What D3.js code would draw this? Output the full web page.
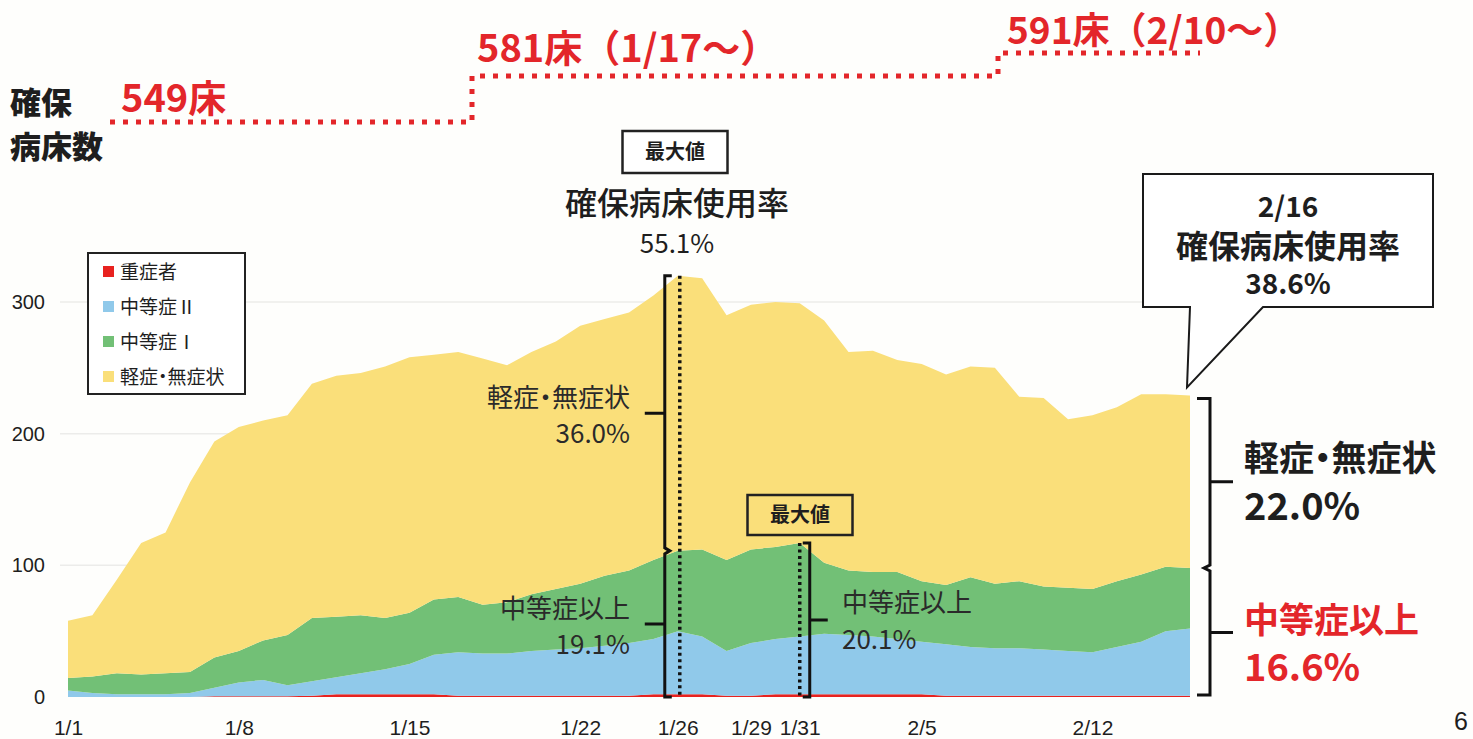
<!DOCTYPE html>
<html>
<head>
<meta charset="utf-8">
<script src="https://cdn.jsdelivr.net/npm/d3@7"></script>
<style>
  body { margin: 0; background: #fefefc; }
  svg { display: block; font-family: "Noto Sans CJK JP", "Noto Sans", sans-serif; }
  .tight { font-feature-settings: "palt" 1; }
</style>
</head>
<body>
<script>
// dates on the x axis
var days = ["1/1","1/2","1/3","1/4","1/5","1/6","1/7","1/8","1/9","1/10",
  "1/11","1/12","1/13","1/14","1/15","1/16","1/17","1/18","1/19","1/20",
  "1/21","1/22","1/23","1/24","1/25","1/26","1/27","1/28","1/29","1/30",
  "1/31","2/1","2/2","2/3","2/4","2/5","2/6","2/7","2/8","2/9",
  "2/10","2/11","2/12","2/13","2/14","2/15","2/16"];

// patients per category
var severe = [0,0,0,0,0,0,0.5,0.5,0.5,0.5,
  1,2,2,2,2,2,1,1,1,1,
  1,1,1,1,2,2,2,1,1,2,
  2,2,2,2,2,2,1,1,1,1,
  1,1,1,1,1,1,1];
var moderate2 = [5,3,2,2,2,3,6.5,10.5,12.5,8.5,
  11,13,16,19,23,30,33,32,32,34,
  35,36,38,40,42,48,44,34,40,42,
  44,46,45,44,42,40,39,37,36,36,
  35,34,33,37,41,49,51];
var moderate1 = [9.5,12.5,16,15,16,16,23,24,30,38,
  48,46,44,39,39,42,42,37,39,43,
  46,49,53,55,60,61,66,69,71,70,
  71,54,49,49,51,46,45,53,49,51,
  48,48,48,50,51,49,46];
var mild = [43.5,46.5,71,100,107,144,164,170,167,167,
  178,183,184,191,194,186,186,187,180,184,
  188,196,195,196,201,209,206,186,186,186,
  182,184,166,168,161,165,160,160,164,140,
  143,128,132,132,137,131,131];

var keys = ["severe", "moderate2", "moderate1", "mild"];
var legendLabels = ["重症者", "中等症Ⅱ", "中等症Ⅰ", "軽症・無症状"];
var colors = ["#e8221f", "#90c9ea", "#72c076", "#fadf7a"];

var yTicks = [0, 100, 200, 300];
var xTicks = ["1/1","1/8","1/15","1/22","1/26","1/29","1/31","2/5","2/12"];

// secured beds header
var bedLevels = [549, 581, 591];
var bedLabels = ["549床", "581床（1/17～）", "591床（2/10～）"];

var red = "#e3262a";
var ink = "#1e1e1e";

var svg = d3.select("body").append("svg")
  .attr("width", 1473)
  .attr("height", 739);

var xScale = d3.scalePoint().domain(days).range([68, 1190]);
var yScale = d3.scaleLinear().domain([0, 300]).range([697, 302]);

var rows = days.map(function(d, i) {
  return { day: d, severe: severe[i], moderate2: moderate2[i], moderate1: moderate1[i], mild: mild[i] };
});
var stacked = d3.stack().keys(keys)(rows);

// faint gridlines
svg.append("g").selectAll("line")
  .data(yTicks.slice(1))
  .join("line")
  .attr("x1", 60).attr("x2", 1190)
  .attr("y1", function(d) { return yScale(d); })
  .attr("y2", function(d) { return yScale(d); })
  .attr("stroke", "#ececea")
  .attr("stroke-width", 1.5);

// stacked areas
var area = d3.area()
  .x(function(d) { return xScale(d.data.day); })
  .y0(function(d) { return yScale(d[0]); })
  .y1(function(d) { return yScale(d[1]); });

svg.append("g").selectAll("path")
  .data(stacked)
  .join("path")
  .attr("d", area)
  .attr("fill", function(d, i) { return colors[i]; });

// axes
var yAxis = d3.axisLeft(yScale).tickValues(yTicks).tickSize(0).tickPadding(7);
var gy = svg.append("g").attr("transform", "translate(52,0)").call(yAxis);
gy.select(".domain").remove();
gy.selectAll("text").attr("font-size", 20).attr("fill", ink)
  .attr("font-family", "Liberation Sans, Arial, sans-serif");

var xAxis = d3.axisBottom(xScale).tickValues(xTicks).tickSize(0).tickPadding(23);
var gx = svg.append("g").attr("transform", "translate(0,697)").call(xAxis);
gx.select(".domain").remove();
gx.selectAll("text").attr("font-size", 21).attr("fill", ink)
  .attr("font-family", "Liberation Sans, Arial, sans-serif");

// legend
var legend = svg.append("g");
legend.append("rect")
  .attr("x", 88).attr("y", 253).attr("width", 157).attr("height", 141)
  .attr("fill", "#fff").attr("stroke", "#222").attr("stroke-width", 2);
var li = legend.selectAll(".item")
  .data(legendLabels)
  .join("g")
  .attr("transform", function(d, i) { return "translate(103," + (272 + i * 35) + ")"; });
li.append("rect")
  .attr("x", 0).attr("y", -6).attr("width", 11).attr("height", 11)
  .attr("fill", function(d, i) { return colors[i]; });
li.append("text")
  .attr("class", function(d) { return d.indexOf("・") >= 0 ? "tight" : null; })
  .attr("x", 17).attr("dy", "0.35em")
  .attr("font-size", 19).attr("fill", ink)
  .text(function(d) { return d; });

// header: secured beds
svg.append("text").attr("x", 10).attr("y", 114)
  .attr("font-size", 31).attr("font-weight", 900).attr("fill", ink).text("確保");
svg.append("text").attr("x", 10).attr("y", 158)
  .attr("font-size", 31).attr("font-weight", 900).attr("fill", ink).text("病床数");

var bedY = d3.scaleOrdinal().domain(bedLevels).range([122, 76, 53]);
var bedX = [110, 472, 998, 1200];
var stepPts = [];
bedLevels.forEach(function(b, i) {
  stepPts.push([bedX[i], bedY(b)]);
  stepPts.push([bedX[i + 1], bedY(b)]);
});
svg.append("path")
  .attr("d", d3.line()(stepPts))
  .attr("fill", "none")
  .attr("stroke", red)
  .attr("stroke-width", 5)
  .attr("stroke-dasharray", "5,8");

var bedTextPos = [[121, 112], [477, 62], [1007, 44]];
svg.append("g").selectAll("text")
  .data(bedLabels)
  .join("text")
  .attr("x", function(d, i) { return bedTextPos[i][0]; })
  .attr("y", function(d, i) { return bedTextPos[i][1]; })
  .attr("font-size", function(d, i) { return i === 2 ? 37 : 38; })
  .attr("font-weight", 700)
  .attr("fill", red)
  .text(function(d) { return d; });

// max box helper
function maxBox(cx, y, w, h, fill) {
  svg.append("rect")
    .attr("x", cx - w / 2).attr("y", y).attr("width", w).attr("height", h)
    .attr("fill", fill).attr("stroke", "#222").attr("stroke-width", 2.5);
  svg.append("text")
    .attr("x", cx).attr("y", y + h / 2).attr("dy", "0.36em")
    .attr("text-anchor", "middle")
    .attr("font-size", 20).attr("font-weight", 700).attr("fill", ink)
    .text("最大値");
}

// peak of total on 1/26
var iPeak = days.indexOf("1/26");
var peakTop = yScale(stacked[3][iPeak][1]);
var peakMid = yScale(stacked[2][iPeak][1]);
var base = yScale(0);
var xPeak = xScale("1/26");

maxBox(675, 131, 105, 42, "#fff");
svg.append("text").attr("x", 677).attr("y", 203).attr("dy", "0.36em")
  .attr("text-anchor", "middle").attr("font-size", 32).attr("font-weight", 500)
  .attr("fill", ink).text("確保病床使用率");
svg.append("text").attr("x", 677).attr("y", 244).attr("dy", "0.36em")
  .attr("text-anchor", "middle").attr("font-size", 26)
  .attr("fill", ink).text("55.1%");

svg.append("line")
  .attr("x1", xPeak + 2).attr("x2", xPeak + 2)
  .attr("y1", peakTop).attr("y2", base)
  .attr("stroke", "#111").attr("stroke-width", 3.5)
  .attr("stroke-dasharray", "3,3.5");

var bx = xPeak - 13;
var bracket = "M" + (bx + 7) + "," + peakTop + "H" + bx + "V" + (peakMid - 3) +
  "L" + (bx + 5) + "," + peakMid + "L" + bx + "," + (peakMid + 3) + "V" + base + "H" + (bx + 7) +
  "M" + bx + "," + ((peakTop + peakMid) / 2) + "H" + (bx - 20) +
  "M" + bx + "," + ((peakMid + base) / 2) + "H" + (bx - 20);
svg.append("path").attr("d", bracket).attr("fill", "none")
  .attr("stroke", "#111").attr("stroke-width", 3);

function noteText(x, y, txt, anchor) {
  svg.append("text").attr("x", x).attr("y", y).attr("dy", "0.36em")
    .attr("class", "tight")
    .attr("text-anchor", anchor).attr("font-size", 26)
    .attr("fill", "#2a2a2a").text(txt);
}
noteText(630, (peakTop + peakMid) / 2 - 16, "軽症・無症状", "end");
noteText(630, (peakTop + peakMid) / 2 + 20, "36.0%", "end");
noteText(630, (peakMid + base) / 2 - 15, "中等症以上", "end");
noteText(630, (peakMid + base) / 2 + 21, "19.1%", "end");

// peak of moderate+ on 1/31
var iMod = days.indexOf("1/31");
var modTop = yScale(stacked[2][iMod][1]);
var xMod = xScale("1/31");
maxBox(800, 495, 105, 40, colors[3]);
svg.append("line")
  .attr("x1", xMod).attr("x2", xMod)
  .attr("y1", modTop).attr("y2", base)
  .attr("stroke", "#111").attr("stroke-width", 3.5)
  .attr("stroke-dasharray", "3,3.5");
var bx2 = xMod + 10;
svg.append("path")
  .attr("d", "M" + (bx2 - 7) + "," + modTop + "H" + bx2 + "V" + base + "H" + (bx2 - 7) +
    "M" + bx2 + "," + ((modTop + base) / 2) + "H" + (bx2 + 18))
  .attr("fill", "none").attr("stroke", "#111").attr("stroke-width", 3);
noteText(842, (modTop + base) / 2 - 17, "中等症以上", "start");
noteText(842, (modTop + base) / 2 + 20, "20.1%", "start");

// latest day 2/16
var iLast = days.length - 1;
var lastTop = yScale(stacked[3][iLast][1]);
var lastMid = yScale(stacked[2][iLast][1]);
var bx3 = 1210;
svg.append("path")
  .attr("d", "M" + (bx3 - 13) + "," + (lastTop + 3) + "H" + bx3 + "V" + (lastMid - 3) +
    "L" + (bx3 - 6) + "," + lastMid + "L" + bx3 + "," + (lastMid + 3) + "V" + (base - 2) + "H" + (bx3 - 13) +
    "M" + bx3 + "," + ((lastTop + lastMid) / 2) + "H" + (bx3 + 23) +
    "M" + bx3 + "," + ((lastMid + base) / 2) + "H" + (bx3 + 23))
  .attr("fill", "none").attr("stroke", "#111").attr("stroke-width", 3);

function bigText(y, txt, fill, size) {
  svg.append("text").attr("x", 1244).attr("y", y).attr("dy", "0.36em")
    .attr("class", "tight")
    .attr("font-size", size).attr("font-weight", 700)
    .attr("fill", fill).text(txt);
}
bigText(458, "軽症・無症状", ink, 35);
bigText(506, "22.0%", ink, 38);
bigText(620, "中等症以上", red, 35);
bigText(667, "16.6%", red, 38);

// callout
var tipX = xScale("2/16") - 3;
svg.append("path")
  .attr("d", "M1143,174H1433V307H1263L" + tipX + "," + (lastTop - 8) + "L1190,307H1143Z")
  .attr("fill", "#fff").attr("stroke", "#1a1a1a").attr("stroke-width", 2);
var callout = ["2/16", "確保病床使用率", "38.6%"];
svg.append("g").selectAll("text")
  .data(callout)
  .join("text")
  .attr("x", 1288)
  .attr("y", function(d, i) { return [207, 246, 284][i]; })
  .attr("dy", "0.36em")
  .attr("text-anchor", "middle")
  .attr("font-size", function(d, i) { return i === 1 ? 32 : 28; })
  .attr("font-weight", 700)
  .attr("fill", ink)
  .text(function(d) { return d; });

// page number
svg.append("text").attr("x", 1454).attr("y", 730)
  .attr("font-size", 25).attr("fill", ink)
  .attr("font-family", "Liberation Sans, Arial, sans-serif").text("6");
</script>
</body>
</html>
